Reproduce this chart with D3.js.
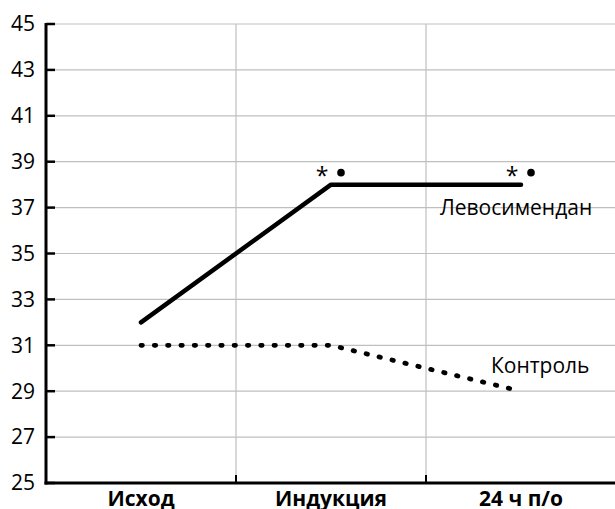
<!DOCTYPE html>
<html>
<head>
<meta charset="utf-8">
<script src="https://cdn.jsdelivr.net/npm/d3@7"></script>
<style>
  body { margin: 0; background: #fff; }
  text { font-family: "Open Sans", "Noto Sans", sans-serif; fill: #000; }
</style>
</head>
<body>
<div id="chart"></div>
<script>
let CHART_WIDTH = 615;
let CHART_HEIGHT = 509;

var categories = ["Исход", "Индукция", "24 ч п/о"];
var levoValues = [32, 38, 38];
var controlValues = [31, 31, 29];
var yTicks = [25, 27, 29, 31, 33, 35, 37, 39, 41, 43, 45];
var markedPoints = [1, 2]; // * • above these levosimendan points

var padLeft = 46, padRight = 616, padTop = 24, padBottom = 483;

var svg = d3.select("#chart").append("svg")
	.attr("width", CHART_WIDTH)
	.attr("height", CHART_HEIGHT);

var x = d3.scaleBand().domain(categories).range([padLeft, padRight]);
var y = d3.scaleLinear().domain([25, 45]).range([padBottom, padTop]);
var cx = d => x(d) + x.bandwidth() / 2;

// grid
svg.append("g").selectAll("line")
	.data(yTicks.slice(1))
	.enter().append("line")
	.attr("x1", padLeft).attr("x2", padRight)
	.attr("y1", d => y(d)).attr("y2", d => y(d))
	.attr("stroke", "#bfbfbf").attr("stroke-width", 1.2);

svg.append("g").selectAll("line")
	.data(categories.slice(1))
	.enter().append("line")
	.attr("x1", d => x(d)).attr("x2", d => x(d))
	.attr("y1", padTop).attr("y2", padBottom)
	.attr("stroke", "#bfbfbf").attr("stroke-width", 1.2);

// y axis (drawn by hand so the thick line and inner ticks look like the original)
var yAxis = svg.append("g");
yAxis.append("line")
	.attr("x1", padLeft).attr("x2", padLeft)
	.attr("y1", y(45) - 1).attr("y2", padBottom + 1.5)
	.attr("stroke", "#000").attr("stroke-width", 3);
yAxis.selectAll(".ytick")
	.data(yTicks)
	.enter().append("line")
	.attr("class", "ytick")
	.attr("x1", padLeft).attr("x2", padLeft + 9)
	.attr("y1", d => y(d)).attr("y2", d => y(d))
	.attr("stroke", "#000").attr("stroke-width", 2.5);
yAxis.selectAll("text")
	.data(yTicks)
	.enter().append("text")
	.attr("x", padLeft - 11)
	.attr("y", d => y(d))
	.attr("dy", "0.35em")
	.attr("text-anchor", "end")
	.attr("font-size", 21)
	.text(d => d);

// x axis
var xAxis = svg.append("g")
	.attr("transform", "translate(0," + padBottom + ")");
xAxis.append("line")
	.attr("x1", padLeft - 1.5).attr("x2", padRight)
	.attr("stroke", "#000").attr("stroke-width", 3);
xAxis.selectAll(".tk")
	.data(categories.slice(1))
	.enter().append("line")
	.attr("x1", d => x(d)).attr("x2", d => x(d))
	.attr("y1", 0).attr("y2", -8)
	.attr("stroke", "#000").attr("stroke-width", 2);
xAxis.selectAll("text")
	.data(categories)
	.enter().append("text")
	.attr("x", d => cx(d))
	.attr("y", 23)
	.attr("text-anchor", "middle")
	.attr("font-size", 21)
	.attr("font-weight", "bold")
	.text(d => d);

// lines
var line = d3.line()
	.x((d, i) => cx(categories[i]))
	.y(d => y(d));

svg.append("path")
	.datum(levoValues)
	.attr("d", line)
	.attr("fill", "none")
	.attr("stroke", "#000")
	.attr("stroke-width", 4.5)
	.attr("stroke-linecap", "round")
	.attr("stroke-linejoin", "round");

svg.append("path")
	.datum(controlValues)
	.attr("d", line)
	.attr("fill", "none")
	.attr("stroke", "#000")
	.attr("stroke-width", 4.8)
	.attr("stroke-linecap", "round")
	.attr("stroke-dasharray", "1.4,11.9");

// significance marks
markedPoints.forEach(function (i) {
	var px = cx(categories[i]);
	var py = y(levoValues[i]);
	svg.append("text")
		.attr("x", px - 9).attr("y", py - 1)
		.attr("text-anchor", "middle")
		.attr("font-size", 23)
		.text("*");
	svg.append("circle")
		.attr("cx", px + 10).attr("cy", py - 12)
		.attr("r", 3.8)
		.attr("fill", "#000");
});

// series labels
svg.append("text")
	.attr("x", 440).attr("y", 215)
	.attr("font-size", 21)
	.text("Левосимендан");
svg.append("text")
	.attr("x", 491).attr("y", 373)
	.attr("font-size", 21)
	.text("Контроль");
</script>
</body>
</html>
